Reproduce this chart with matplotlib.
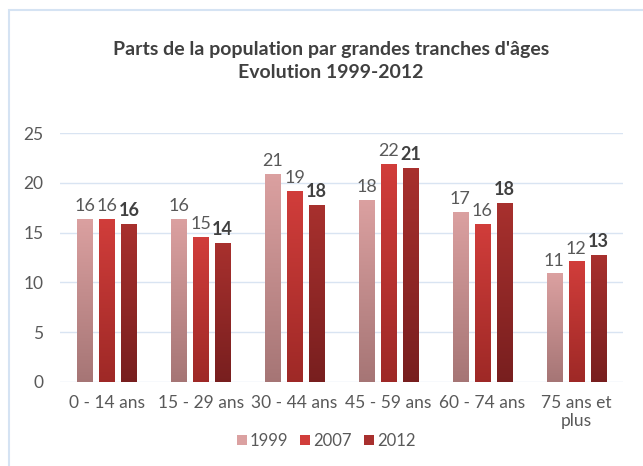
import numpy as np
import matplotlib
matplotlib.use("Agg")
import matplotlib.pyplot as plt
from matplotlib.patches import Rectangle
from matplotlib.colors import LinearSegmentedColormap

plt.rcParams['font.family'] = ['Lato', 'DejaVu Sans']

# données
categories = ['0 - 14 ans', '15 - 29 ans', '30 - 44 ans', '45 - 59 ans', '60 - 74 ans', '75 ans et\nplus']
years = ['1999', '2007', '2012']
v1999 = [16.4, 16.4, 20.9, 18.3, 17.1, 10.9]
v2007 = [16.4, 14.6, 19.2, 21.9, 15.9, 12.1]
v2012 = [15.9, 14.0, 17.8, 21.5, 18.0, 12.8]
labels1999 = ['16', '16', '21', '18', '17', '11']
labels2007 = ['16', '15', '19', '22', '16', '12']
labels2012 = ['16', '14', '18', '21', '18', '13']

series = [v1999, v2007, v2012]
series_labels = [labels1999, labels2007, labels2012]
# couleurs haut / bas du dégradé
grads = [((0.86, 0.63, 0.63), (0.65, 0.46, 0.46)),
         ((0.82, 0.24, 0.23), (0.62, 0.16, 0.15)),
         ((0.66, 0.19, 0.18), (0.47, 0.12, 0.12))]

fig = plt.figure(figsize=(6.43, 4.66), dpi=100)
fig.patches.append(Rectangle((9 / 643, -0.1), 1.2, 1.1 - 10 / 466,
                             transform=fig.transFigure, fill=False,
                             edgecolor='#d5e3f3', linewidth=1.5))
ax = fig.add_axes([60 / 643, 1 - 382 / 466, (623 - 60) / 643, (382 - 133) / 466])

x = np.arange(len(categories))
step = 0.234
width = 0.16
grad = np.linspace(1, 0, 256).reshape(-1, 1)

for i, (vals, labs, (ctop, cbot)) in enumerate(zip(series, series_labels, grads)):
    cmap = LinearSegmentedColormap.from_list('g%d' % i, [cbot, ctop])
    for xc, v, lab in zip(x + (i - 1) * step, vals, labs):
        x0 = xc - width / 2
        bar = Rectangle((x0, 0), width, v, facecolor='none', edgecolor='none')
        ax.add_patch(bar)
        im = ax.imshow(grad, cmap=cmap, extent=[x0, x0 + width, 0, v],
                       aspect='auto', zorder=2, interpolation='bilinear')
        im.set_clip_path(bar)
        if i == 2:
            ax.text(xc, v + 0.45, lab, ha='center', va='bottom', fontsize=13,
                    fontweight='bold', color='#404040')
        else:
            ax.text(xc, v + 0.45, lab, ha='center', va='bottom', fontsize=13,
                    color='#595959')

ax.set_xlim(-0.5, 5.5)
ax.set_ylim(0, 25)
ax.set_yticks([0, 5, 10, 15, 20, 25])
ax.set_xticks(x)
ax.set_xticklabels(categories)
ax.yaxis.grid(True, color='#d9e4f2', linewidth=1)
ax.set_axisbelow(True)
for s in ax.spines.values():
    s.set_visible(False)
ax.tick_params(axis='both', length=0, labelsize=12.5, labelcolor='#595959')
ax.tick_params(axis='x', pad=9)
ax.tick_params(axis='y', pad=12)

# légende
handles = [Rectangle((0, 0), 1, 1, facecolor=g[0]) for g in grads]
fig.legend(handles, years, loc='center', bbox_to_anchor=(326 / 643, 1 - 441 / 466),
           ncol=3, frameon=False, fontsize=12, handlelength=0.6, handleheight=0.6,
           handletextpad=0.2, columnspacing=0.7, labelcolor='#595959')

fig.text(331 / 643, 1 - 50 / 466, "Parts de la population par grandes tranches d'âges",
         ha='center', va='center', fontsize=14, fontweight='bold', color='#404040')
fig.text(331 / 643, 1 - 73 / 466, "Evolution 1999-2012",
         ha='center', va='center', fontsize=14, fontweight='bold', color='#404040')

fig.savefig('out.png', dpi=100)
